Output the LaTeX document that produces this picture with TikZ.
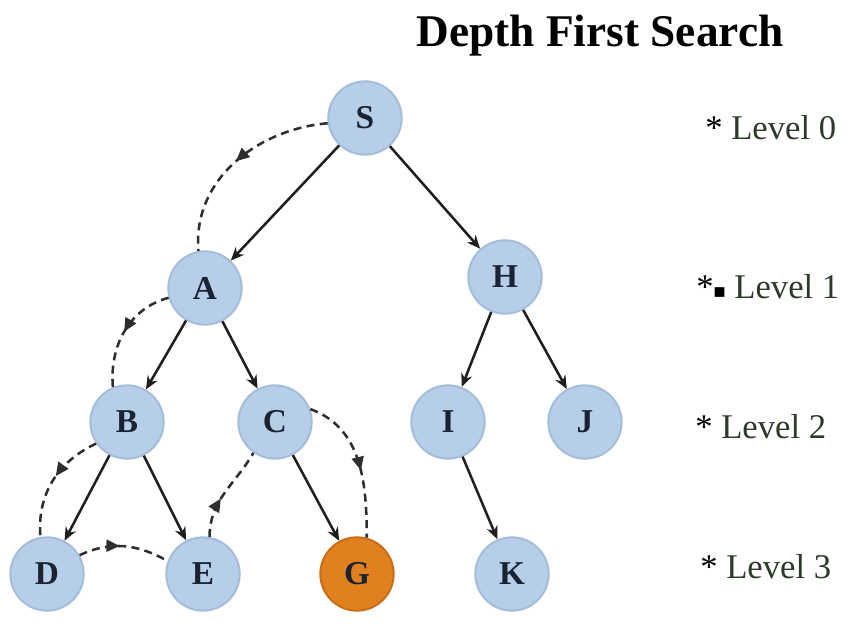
\documentclass[tikz,border=0pt]{standalone}
\usepackage{fontspec}
\setmainfont{Liberation Serif}
\usetikzlibrary{arrows.meta,decorations.markings}

\definecolor{nodeblue}{HTML}{B7CEE8}
\definecolor{nodering}{HTML}{A3BDDB}
\definecolor{goalorange}{HTML}{E0801F}
\definecolor{goalring}{HTML}{C86E18}
\definecolor{labelgreen}{HTML}{2B3B27}
\definecolor{inkdark}{HTML}{1A2332}

\tikzset{
  vertex/.style={circle, draw=nodering, line width=1.5pt, fill=nodeblue,
    minimum size=55pt, inner sep=0pt, text=inkdark,
    font=\bfseries\fontsize{25}{25}\selectfont},
  goal/.style={vertex, fill=goalorange, draw=goalring},
  treeedge/.style={draw=black!88, line width=1.9pt,
    -{Stealth[length=10pt,width=8.5pt]}},
  walk/.style={draw=black!82, line width=1.9pt, dash pattern=on 6pt off 4pt,
    postaction={decorate},
    decoration={markings, mark=at position #1 with
      {\arrow{Triangle[length=10pt,width=9pt]}}}},
  levellabel/.style={anchor=base west, text=labelgreen, inner sep=0pt,
    font=\fontsize{26}{26}\selectfont},
}

\begin{document}
\begin{tikzpicture}[x=0.75pt, y=0.75pt]
  \useasboundingbox (0,0) rectangle (849,-627);

  % heading
  \node[anchor=base, font=\bfseries\fontsize{34}{34}\selectfont] (title)
    at (600,-47) {Depth First Search};

  % tree vertices
  \node[vertex] (S) at (365,-118) {S};
  \node[vertex] (A) at (205,-288) {A};
  \node[vertex] (H) at (505,-277) {H};
  \node[vertex] (B) at (127,-422) {B};
  \node[vertex] (C) at (275,-422) {C};
  \node[vertex] (I) at (448,-422) {I};
  \node[vertex] (J) at (585,-422) {J};
  \node[vertex] (D) at (47,-574) {D};
  \node[vertex] (E) at (203,-574) {E};
  \node[goal]   (G) at (357,-574) {G};
  \node[vertex] (K) at (512,-574) {K};

  % tree edges
  \draw[treeedge] (S) -- (A);
  \draw[treeedge] (S) -- (H);
  \draw[treeedge] (A) -- (B);
  \draw[treeedge] (A) -- (C);
  \draw[treeedge] (B) -- (D);
  \draw[treeedge] (B) -- (E);
  \draw[treeedge] (C) -- (G);
  \draw[treeedge] (H) -- (I);
  \draw[treeedge] (H) -- (J);
  \draw[treeedge] (I) -- (K);

  % depth-first walk order
  \draw[walk=0.5]  (S.188) to[out=185, in=95] (A.100);
  \draw[walk=0.5]  (A.195) to[out=195, in=95] (B.112);
  \draw[walk=0.45] (B.215) to[out=205, in=95] (D.100);
  \draw[walk=0.45] (D.30)  to[out=25, in=150] (E.160);
  \draw[walk=0.42] (E.80)  to[out=90, in=240] (C.235);
  \draw[walk=0.55] (C.20)  to[out=-20, in=90] (G.75);

  % level captions
  \node[levellabel] (lv0) at (705,-140) {\textcolor{black}{*} Level 0};
  \node[levellabel] (lv1) at (696,-298)
    {\textcolor{black}{*{\fontsize{15}{15}\selectfont ■}} Level 1};
  \node[levellabel] (lv2) at (695,-438) {\textcolor{black}{*} Level 2};
  \node[levellabel] (lv3) at (700,-578) {\textcolor{black}{*} Level 3};
\end{tikzpicture}
\end{document}
